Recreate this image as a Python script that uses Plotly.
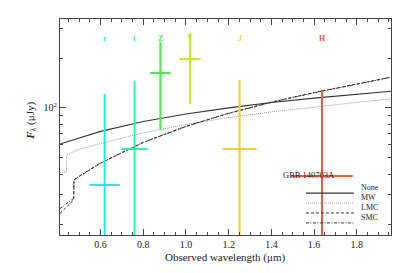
import plotly.graph_objects as go

# ---- data ----
band_names = ["r", "i", "Z", "Y", "J", "H"]
band_colors = ["#1ee8ff", "#22ff99", "#44ee44", "#bbee22", "#ffcc22", "#ff5533"]
band_wl = [0.619, 0.759, 0.880, 1.019, 1.251, 1.637]
band_wl_err = [0.071, 0.061, 0.048, 0.050, 0.080, 0.144]
band_flux = [34.4, 56.6, 162.6, 197.0, 56.6, 38.9]
band_flux_hi = [121.4, 145.4, 249.7, 283.3, 147.5, 128.4]
band_flux_lo = [5.0, 5.0, 73.7, 105.7, 5.0, 5.0]

none_wl = [0.41, 0.6, 0.8, 1.0, 1.2, 1.4, 1.6, 1.8, 1.96]
none_flux = [60.7, 72.3, 82.9, 92.0, 100.2, 107.8, 114.7, 121.2, 126.2]

mw_wl = [0.41, 0.440, 0.441, 0.5, 0.6, 0.8, 1.0, 1.2, 1.4, 1.6, 1.8, 1.96]
mw_flux = [41.0, 41.0, 52.0, 56.5, 61.0, 70.9, 79.6, 87.5, 94.8, 101.6, 108.0, 113.5]

lmc_wl = [0.41, 0.474, 0.475, 0.5, 0.6, 0.8, 1.0, 1.2, 1.4, 1.6, 1.8, 1.96]
lmc_flux = [23.2, 27.9, 36.8, 38.7, 46.5, 62.0, 77.5, 93.0, 108.5, 124.0, 139.5, 153.5]

smc_wl = [0.41, 0.474, 0.476, 0.5, 0.6, 0.8, 1.0, 1.2, 1.4, 1.6, 1.8, 1.96]
smc_flux = [24.8, 28.6, 37.0, 38.9, 46.7, 62.2, 77.5, 92.8, 108.2, 123.5, 139.0, 153.0]

model_names = ["None", "MW", "LMC", "SMC"]
legend_title = "GRB 140703A"

x_ticks = [0.6, 0.8, 1.0, 1.2, 1.4, 1.6, 1.8]
y_major = [100]
y_minor = [20, 30, 40, 50, 60, 70, 80, 90, 200, 300]

FONT = "Liberation Serif"
TXT = "#222222"

fig = go.Figure()

styles = [
    ("#333333", "solid", 1.1),
    ("#9a9a9a", "1px,1px", 1.0),
    ("#333333", "3px,2px", 1.0),
    ("#333333", "3px,1.5px,1px,1.5px", 1.0),
]
model_wl = [none_wl, mw_wl, lmc_wl, smc_wl]
model_flux = [none_flux, mw_flux, lmc_flux, smc_flux]

for name, wl, fl, (col, dash, w) in zip(model_names, model_wl, model_flux, styles):
    fig.add_trace(go.Scatter(x=wl, y=fl, mode="lines", name=name,
                             line=dict(color=col, dash=dash, width=w),
                             showlegend=False))

# photometric points
for i, nm in enumerate(band_names):
    fig.add_trace(go.Scatter(
        x=[band_wl[i]], y=[band_flux[i]], mode="markers", showlegend=False,
        marker=dict(size=1, color=band_colors[i]),
        error_x=dict(type="constant", value=band_wl_err[i], color=band_colors[i],
                     thickness=2, width=0),
        error_y=dict(type="data", symmetric=False,
                     array=[band_flux_hi[i] - band_flux[i]],
                     arrayminus=[band_flux[i] - band_flux_lo[i]],
                     color=band_colors[i], thickness=2, width=0),
    ))
    fig.add_annotation(x=band_wl[i], y=0.94, xref="x", yref="paper",
                       text="<b>" + nm + "</b>", showarrow=False,
                       font=dict(family=FONT, size=8, color=band_colors[i]))

# legend (drawn in paper coordinates; plot area is 331 x 216 px)
fig.add_annotation(x=0.837, y=0.245, xref="paper", yref="paper",
                   text=legend_title, showarrow=False,
                   font=dict(family=FONT, size=8.5, color=TXT))
leg_y = [0.194, 0.148, 0.102, 0.056]
for name, yy, (col, dash, w) in zip(model_names, leg_y, styles):
    fig.add_shape(type="line", xref="paper", yref="paper",
                  x0=0.743, x1=0.888, y0=yy, y1=yy,
                  line=dict(color=col, dash=dash, width=w))
    fig.add_annotation(x=0.906, y=yy, xref="paper", yref="paper",
                       text=name, showarrow=False, xanchor="left",
                       borderpad=0,
                       font=dict(family=FONT, size=8, color=TXT))

# axis titles
fig.add_annotation(x=0.4985, y=-0.106, xref="paper", yref="paper",
                   text="Observed wavelength (μm)", showarrow=False,
                   yanchor="middle",
                   font=dict(family=FONT, size=11, color=TXT))
fig.add_annotation(x=-0.09, y=0.53, xref="paper", yref="paper",
                   text="<b><i>F</i></b><sub>λ</sub> (μJy)", showarrow=False,
                   textangle=-90, xanchor="center",
                   font=dict(family=FONT, size=11, color=TXT))

axis_common = dict(showline=True, linecolor="#444444", linewidth=1,
                   mirror="ticks", ticks="inside", tickcolor="#444444",
                   showgrid=False, zeroline=False, automargin=False,
                   tickfont=dict(family=FONT, size=10, color=TXT))

fig.update_xaxes(range=[0.41, 1.96], tickvals=x_ticks, tickformat=".1f",
                 ticklen=6,
                 minor=dict(dtick=0.05, tick0=0, ticks="inside", ticklen=3,
                            tickcolor="#444444", showgrid=False),
                 **axis_common)
fig.update_yaxes(type="log", range=[1.235, 2.536], tickvals=y_major,
                 ticktext=["10<sup>2</sup>"], ticklen=6,
                 minor=dict(tickvals=y_minor, ticks="inside", ticklen=3,
                            tickcolor="#444444", showgrid=False),
                 **axis_common)

# page has an 8px body margin, so the figure is sized to fit the window
fig.update_layout(
    width=401, height=265,
    margin=dict(l=52, r=18, t=11, b=38),
    paper_bgcolor="white", plot_bgcolor="white",
    font=dict(family=FONT, color=TXT),
    showlegend=False,
)

fig.write_html("out.html")
